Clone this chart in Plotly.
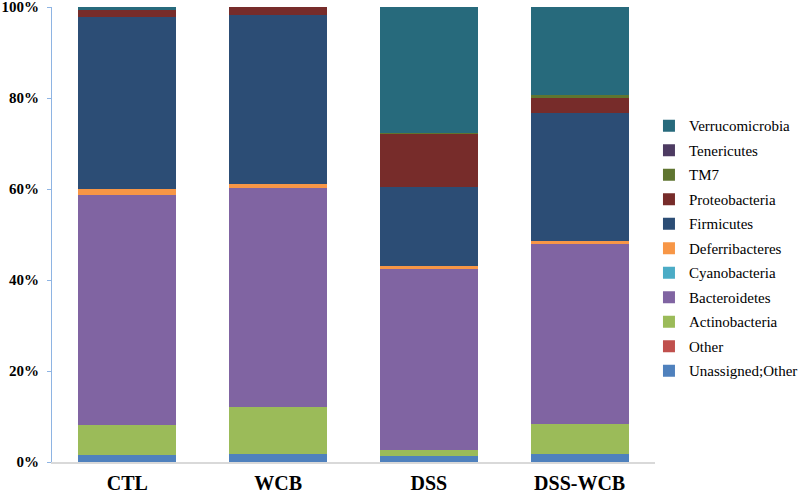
import plotly.graph_objects as go

groups = ["CTL", "WCB", "DSS", "DSS-WCB"]

unassigned = [1.5, 1.8, 1.4, 1.7]
other = [0.0, 0.0, 0.0, 0.0]
actinobacteria = [6.6, 10.3, 1.2, 6.6]
bacteroidetes = [50.5, 48.1, 39.8, 39.8]
cyanobacteria = [0.0, 0.0, 0.0, 0.0]
deferribacteres = [1.4, 1.0, 0.7, 0.4]
firmicutes = [37.9, 37.1, 17.3, 28.1]
proteobacteria = [1.5, 1.7, 11.8, 3.6]
tm7 = [0.0, 0.0, 0.1, 0.4]
tenericutes = [0.0, 0.0, 0.0, 0.0]
verrucomicrobia = [0.6, 0.0, 27.7, 19.4]

series = [
    ("Unassigned;Other", unassigned, "#4F81BD"),
    ("Other", other, "#C0504D"),
    ("Actinobacteria", actinobacteria, "#9BBB59"),
    ("Bacteroidetes", bacteroidetes, "#8064A2"),
    ("Cyanobacteria", cyanobacteria, "#4BACC6"),
    ("Deferribacteres", deferribacteres, "#F79646"),
    ("Firmicutes", firmicutes, "#2C4D75"),
    ("Proteobacteria", proteobacteria, "#772C2A"),
    ("TM7", tm7, "#5F7530"),
    ("Tenericutes", tenericutes, "#4D3B62"),
    ("Verrucomicrobia", verrucomicrobia, "#276A7C"),
]

yticks = [0, 20, 40, 60, 80, 100]
ytick_labels = ["0%", "20%", "40%", "60%", "80%", "100%"]

SERIF = "Liberation Serif"

fig = go.Figure()
n = len(series)
for i, (name, vals, color) in enumerate(series):
    fig.add_trace(go.Bar(
        x=groups, y=vals, name=name, legendgroup=name,
        legendrank=100 + (n - i),
        marker=dict(color=color, line=dict(width=0)),
    ))

fig.update_layout(
    barmode="stack",
    bargap=0.35,
    width=800, height=494,
    margin=dict(l=52, r=144.5, t=7, b=32.3, autoexpand=False),
    paper_bgcolor="white",
    plot_bgcolor="white",
    font=dict(family=SERIF, color="black"),
    showlegend=True,
    legend=dict(
        traceorder="grouped",
        x=0.99, xanchor="left",
        y=0.775, yanchor="top",
        font=dict(size=15, family=SERIF, color="black"),
        tracegroupgap=2,
        bgcolor="rgba(0,0,0,0)",
    ),
    xaxis=dict(
        showline=True, linecolor="#D9D9D9", linewidth=1.5,
        ticks="", showgrid=False,
        tickfont=dict(size=20, family=SERIF, color="black", weight="bold"),
        ticklabelstandoff=2,
        ticklabeloverflow="allow",
        automargin=False,
    ),
    yaxis=dict(
        range=[0, 100], tickvals=yticks, ticktext=ytick_labels,
        showline=True, linecolor="#8EB4E3", linewidth=1,
        ticks="outside", ticklen=4, tickcolor="#8EB4E3",
        showgrid=False, zeroline=False,
        tickfont=dict(size=15, family=SERIF, color="black", weight="bold"),
        ticklabelstandoff=5,
        ticklabeloverflow="allow",
        automargin=False,
    ),
)

fig.write_html(
    "out.html",
    config={"displayModeBar": False},
    post_script="document.body.style.margin='0';document.body.style.padding='0';",
)
